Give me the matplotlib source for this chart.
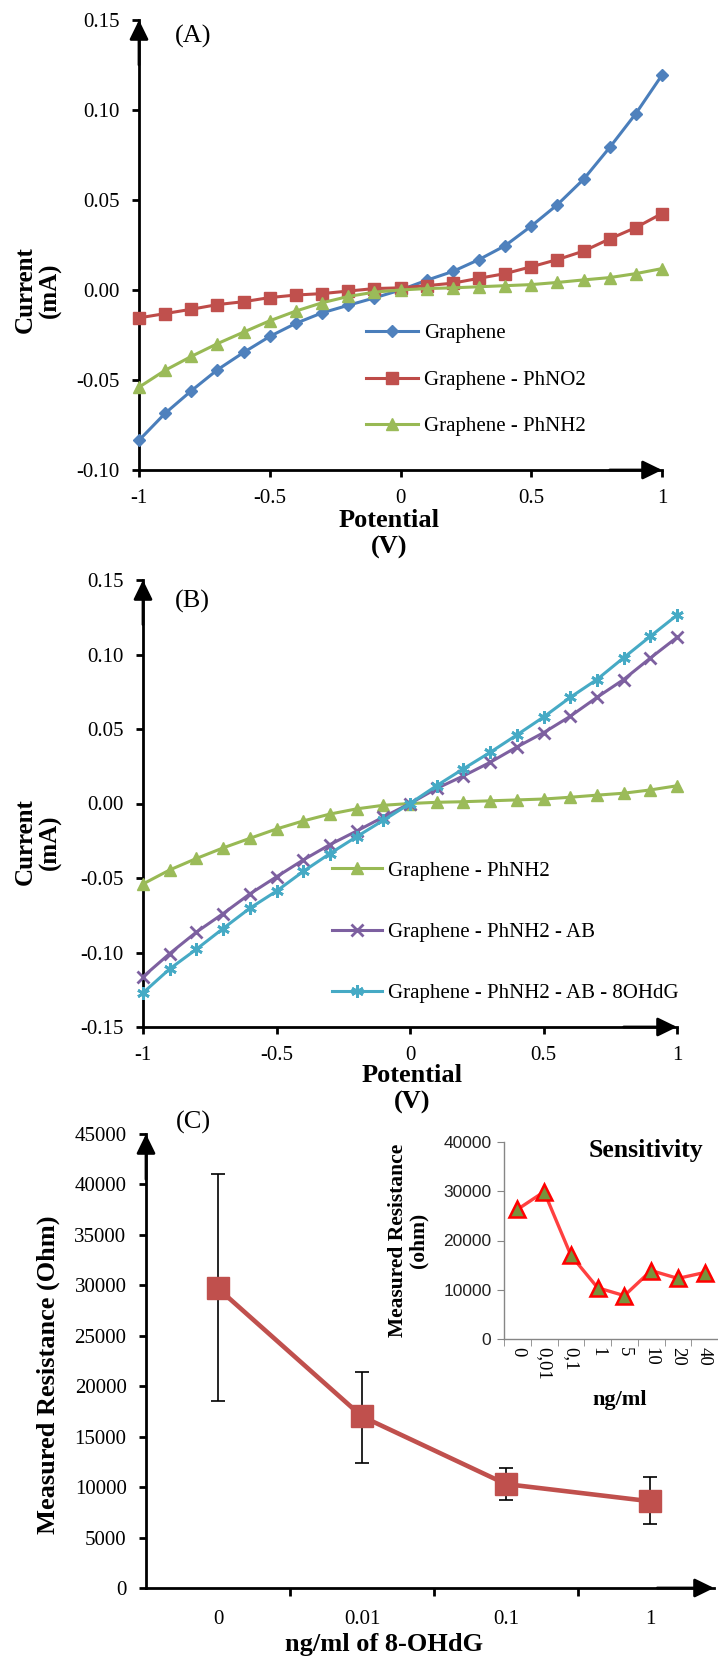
import matplotlib
matplotlib.use("Agg")
import matplotlib.pyplot as plt
import numpy as np

plt.rcParams['font.family'] = ['Liberation Serif', 'DejaVu Serif']

# ---------------- data ----------------
potential = [-1.0, -0.9, -0.8, -0.7, -0.6, -0.5, -0.4, -0.3, -0.2, -0.1, 0.0,
             0.1, 0.2, 0.3, 0.4, 0.5, 0.6, 0.7, 0.8, 0.9, 1.0]
graphene = [-0.0835, -0.0685, -0.0560, -0.0443, -0.0347, -0.0258, -0.0185, -0.0127,
            -0.0085, -0.0044, 0.0000, 0.0054, 0.0103, 0.0169, 0.0246, 0.0355,
            0.0474, 0.0615, 0.0792, 0.0980, 0.1194]
phno2 = [-0.0155, -0.0131, -0.0107, -0.0081, -0.0065, -0.0042, -0.0028, -0.0020,
         -0.0006, 0.0008, 0.0012, 0.0024, 0.0038, 0.0065, 0.0091, 0.0129,
         0.0169, 0.0216, 0.0284, 0.0347, 0.0425]
phnh2 = [-0.0540, -0.0446, -0.0369, -0.0298, -0.0234, -0.0171, -0.0117, -0.0071,
         -0.0036, -0.0012, 0.0000, 0.0008, 0.0012, 0.0018, 0.0024, 0.0030,
         0.0042, 0.0056, 0.0069, 0.0091, 0.0119]
phnh2_ab = [-0.1163, -0.1007, -0.0863, -0.0739, -0.0607, -0.0492, -0.0379, -0.0276,
            -0.0185, -0.0091, 0.0000, 0.0101, 0.0185, 0.0276, 0.0379, 0.0475,
            0.0585, 0.0712, 0.0832, 0.0976, 0.1115]
phnh2_ab_ohdg = [-0.1271, -0.1110, -0.0978, -0.0839, -0.0703, -0.0588, -0.0456, -0.0336,
                 -0.0223, -0.0113, 0.0000, 0.0120, 0.0233, 0.0343, 0.0460, 0.0580,
                 0.0712, 0.0832, 0.0978, 0.1122, 0.1264]

labels_A = ['Graphene', 'Graphene - PhNO2', 'Graphene - PhNH2']
labels_B = ['Graphene - PhNH2', 'Graphene - PhNH2 - AB', 'Graphene - PhNH2 - AB - 8OHdG']

conc = ['0', '0.01', '0.1', '1']
resistance = [29700, 17000, 10300, 8600]
err_minus = [11200, 4600, 1600, 2300]
err_plus = [11300, 4400, 1600, 2400]

sens_conc = ['0', '0,01', '0,1', '1', '5', '10', '20', '40']
sens_res = [26300, 29900, 17000, 10400, 8800, 13900, 12300, 13500]

xticks_iv = [-1, -0.5, 0, 0.5, 1]
xticklabels_iv = ['-1', '-0.5', '0', '0.5', '1']
yticks_A = [-0.10, -0.05, 0.00, 0.05, 0.10, 0.15]
yticks_B = [-0.15, -0.10, -0.05, 0.00, 0.05, 0.10, 0.15]
yticks_C = [0, 5000, 10000, 15000, 20000, 25000, 30000, 35000, 40000, 45000]
yticks_in = [0, 10000, 20000, 30000, 40000]

BLUE = '#4A7EBB'
RED = '#BE4B48'
GREEN = '#98B954'
PURPLE = '#7D60A0'
CYAN = '#46AAC5'

W, H = 718, 1661
fig = plt.figure(figsize=(W / 100, H / 100), dpi=100)


def rect(l, t, r, b):
    return [l / W, 1 - b / H, (r - l) / W, (b - t) / H]


def fx(x):
    return x / W


def fy(y):
    return 1 - y / H


def arrows(ax, lw=2.0, ms=26):
    ap = dict(arrowstyle='-|>,head_length=0.45,head_width=0.22', color='black',
              lw=lw, mutation_scale=ms, shrinkA=0, shrinkB=0)
    ax.annotate('', xy=(0, 1.0), xytext=(0, 0.9), xycoords='axes fraction',
                textcoords='axes fraction', arrowprops=ap, annotation_clip=False)
    ax.annotate('', xy=(1.0, 0), xytext=(0.9, 0), xycoords='axes fraction',
                textcoords='axes fraction', arrowprops=ap, annotation_clip=False)


def style_iv(ax, yticks):
    for s in ['top', 'right']:
        ax.spines[s].set_visible(False)
    for s in ['left', 'bottom']:
        ax.spines[s].set_linewidth(2.0)
    ax.set_xlim(-1, 1)
    ax.set_ylim(yticks[0], yticks[-1])
    ax.set_xticks(xticks_iv)
    ax.set_xticklabels(xticklabels_iv)
    ax.set_yticks(yticks)
    ax.set_yticklabels(['%.2f' % v for v in yticks])
    ax.tick_params(axis='both', direction='out', length=5, width=2, labelsize=15)
    ax.tick_params(axis='x', pad=9)
    ax.tick_params(axis='y', pad=9)
    arrows(ax)


# ---------------- Panel A ----------------
axA = fig.add_axes(rect(139, 20, 662, 470))
lw = 2.2
axA.plot(potential, graphene, color=BLUE, lw=lw, marker='D', ms=6.5, mfc='#4F81BD',
         mec='#4F81BD', label=labels_A[0], clip_on=False, zorder=3)
axA.plot(potential, phno2, color=RED, lw=lw, marker='s', ms=8.5, mfc='#C0504D',
         mec='#C0504D', label=labels_A[1], clip_on=False, zorder=3)
axA.plot(potential, phnh2, color=GREEN, lw=lw, marker='^', ms=9, mfc='#9BBB59',
         mec='#9BBB59', label=labels_A[2], clip_on=False, zorder=3)
style_iv(axA, yticks_A)
axA.legend(loc='center left', bbox_to_anchor=((366 - 139) / 523, (470 - 380) / 450),
           frameon=False, fontsize=15, handlelength=2.5, handletextpad=0.3,
           labelspacing=1.3, borderpad=0, borderaxespad=0)
fig.text(fx(175), fy(36), '(A)', fontsize=19, ha='left', va='center')
fig.text(fx(389), fy(534), 'Potential\n(V)', fontsize=19, fontweight='bold',
         ha='center', va='center', linespacing=1.2)
fig.text(fx(38), fy(290), 'Current\n(mA)', fontsize=18, fontweight='bold',
         ha='center', va='center', rotation=90, linespacing=1.1)

# ---------------- Panel B ----------------
axB = fig.add_axes(rect(143, 580, 677, 1027))
axB.plot(potential, phnh2, color=GREEN, lw=lw, marker='^', ms=9, mfc='#9BBB59',
         mec='#9BBB59', label=labels_B[0], clip_on=False, zorder=3)
axB.plot(potential, phnh2_ab, color=PURPLE, lw=lw, marker='x', ms=8, mew=2,
         mec=PURPLE, label=labels_B[1], clip_on=False, zorder=3)
axB.plot(potential, phnh2_ab_ohdg, color=CYAN, lw=lw, marker=(6, 2, 0), ms=9, mew=2,
         mec=CYAN, label=labels_B[2], clip_on=False, zorder=3)
style_iv(axB, yticks_B)
axB.legend(loc='center left', bbox_to_anchor=((332 - 143) / 534, (1027 - 932) / 447),
           frameon=False, fontsize=15, handlelength=2.4, handletextpad=0.3,
           labelspacing=2.0, borderpad=0, borderaxespad=0)
fig.text(fx(175), fy(601), '(B)', fontsize=19, ha='left', va='center')
fig.text(fx(412), fy(1089), 'Potential\n(V)', fontsize=19, fontweight='bold',
         ha='center', va='center', linespacing=1.2)
fig.text(fx(38), fy(842), 'Current\n(mA)', fontsize=18, fontweight='bold',
         ha='center', va='center', rotation=90, linespacing=1.1)

# ---------------- Panel C ----------------
axC = fig.add_axes(rect(146, 1134, 714, 1588))
xc = np.arange(len(conc))
axC.errorbar(xc, resistance, yerr=[err_minus, err_plus], fmt='none', ecolor='black',
             elinewidth=1.2, capsize=5, capthick=1.2, zorder=2)
axC.plot(xc, resistance, color='#C0504D', lw=3.3, marker='s', ms=16,
         mfc='#C0504D', mec='#C0504D', zorder=3)
for s in ['top', 'right']:
    axC.spines[s].set_visible(False)
for s in ['left', 'bottom']:
    axC.spines[s].set_linewidth(2.0)
axC.set_xlim(-0.5, -0.5 + 568 / 144)
axC.set_ylim(0, 45000)
axC.set_yticks(yticks_C)
axC.set_yticklabels([str(v) for v in yticks_C])
axC.set_xticks(xc)
axC.set_xticklabels(conc)
axC.set_xticks([0.5, 1.5, 2.5], minor=True)
axC.tick_params(axis='x', which='major', length=0, pad=16, labelsize=15)
axC.tick_params(axis='x', which='minor', length=6, width=2, direction='out')
axC.tick_params(axis='y', length=5, width=2, direction='out', pad=9, labelsize=15)
arrows(axC)
fig.text(fx(176), fy(1122), '(C)', fontsize=19, ha='left', va='center')
fig.text(fx(384), fy(1645), 'ng/ml of 8-OHdG', fontsize=19, fontweight='bold',
         ha='center', va='center')
fig.text(fx(48), fy(1375), 'Measured Resistance (Ohm)', fontsize=19, fontweight='bold',
         ha='center', va='center', rotation=90)

# ---------------- Inset ----------------
axI = fig.add_axes(rect(504, 1142, 718, 1339))
xi = np.arange(len(sens_conc))
axI.plot(xi, sens_res, color='#FF4040', lw=2.4, marker='^', ms=11, mfc='#77933C',
         mec='#FF0000', mew=1.8, zorder=3, clip_on=False)
for s in ['top', 'right']:
    axI.spines[s].set_visible(False)
for s in ['left', 'bottom']:
    axI.spines[s].set_color('#868686')
    axI.spines[s].set_linewidth(1.0)
axI.set_xlim(-0.5, 7.5)
axI.set_ylim(0, 40000)
axI.set_yticks(yticks_in)
axI.set_yticklabels([str(v) for v in yticks_in], family=['Liberation Sans'], fontsize=12.5,
                    color='#222222')
axI.set_xticks(xi)
axI.set_xticklabels(sens_conc, rotation=-90, fontsize=13.5)
axI.set_xticks(np.arange(-0.5, 8, 1.0), minor=True)
axI.tick_params(axis='x', which='major', length=0, pad=6)
axI.tick_params(axis='x', which='minor', length=5, color='#868686', direction='out')
axI.tick_params(axis='y', length=5, color='#868686', direction='out', pad=4)
fig.text(fx(646), fy(1151), 'Sensitivity', fontsize=18.5, fontweight='bold',
         ha='center', va='center')
fig.text(fx(620), fy(1400), 'ng/ml', fontsize=16, fontweight='bold',
         ha='center', va='center')
fig.text(fx(408), fy(1240), 'Measured Resistance\n(ohm)', fontsize=15.5,
         fontweight='bold', ha='center', va='center', rotation=90, linespacing=1.0)

fig.savefig('out.png', dpi=100)
